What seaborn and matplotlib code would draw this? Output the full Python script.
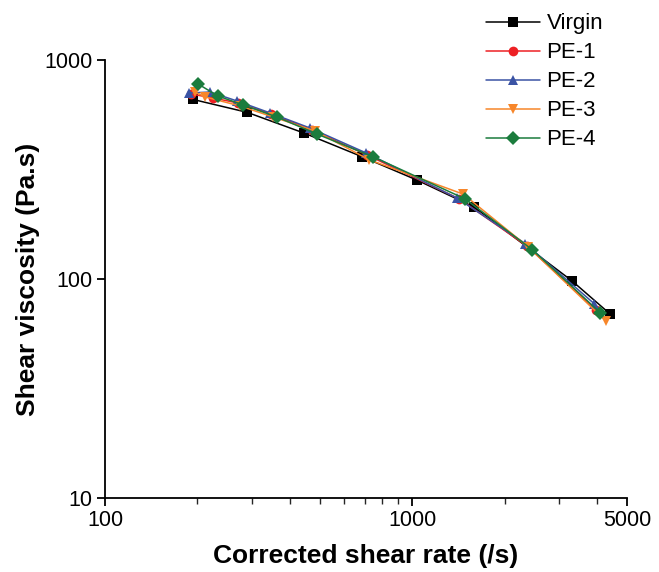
import numpy as np
import pandas as pd
import matplotlib
matplotlib.use("Agg")
import matplotlib.pyplot as plt
import matplotlib.ticker as mticker
import seaborn as sns

# Data (shear rate in /s, viscosity in Pa.s)
virgin_rate = [193, 290, 446, 686, 1036, 1592, 3313, 4416]
virgin_visc = [661, 577, 463, 362, 283, 213, 98, 69]

pe1_rate = [191, 225, 271, 347, 472, 714, 1423, 2369, 3975]
pe1_visc = [699, 671, 636, 567, 479, 368, 232, 141, 72]

pe2_rate = [188, 220, 269, 345, 465, 709, 1401, 2334, 3916]
pe2_visc = [707, 714, 650, 573, 489, 376, 234, 145, 77]

pe3_rate = [196, 212, 275, 353, 483, 725, 1466, 2387, 4284]
pe3_visc = [714, 678, 617, 549, 474, 350, 244, 140, 64]

pe4_rate = [201, 233, 282, 363, 490, 747, 1488, 2460, 4097]
pe4_visc = [777, 685, 623, 549, 459, 361, 232, 136, 70]

samples = ["Virgin", "PE-1", "PE-2", "PE-3", "PE-4"]
rates = [virgin_rate, pe1_rate, pe2_rate, pe3_rate, pe4_rate]
viscs = [virgin_visc, pe1_visc, pe2_visc, pe3_visc, pe4_visc]

df = pd.concat(
    [pd.DataFrame({"rate": r, "visc": v, "sample": s}) for s, r, v in zip(samples, rates, viscs)],
    ignore_index=True,
)

colors = {"Virgin": "#000000", "PE-1": "#ED2024", "PE-2": "#3A53A4",
          "PE-3": "#F7862A", "PE-4": "#1B7C3D"}
markers = {"Virgin": "s", "PE-1": "o", "PE-2": "^", "PE-3": "v", "PE-4": "D"}

sns.set_style("ticks")
plt.rcParams["font.family"] = ["Liberation Sans", "DejaVu Sans"]
plt.rcParams["text.color"] = "black"
plt.rcParams["axes.labelcolor"] = "black"

fig = plt.figure(figsize=(6.59, 5.72), dpi=100)
ax = fig.add_axes([0.1593, 0.1294, 0.7921, 0.7657])

sns.lineplot(data=df, x="rate", y="visc", hue="sample", style="sample",
             hue_order=samples, style_order=samples, palette=colors,
             markers=markers, dashes=False, sort=False, estimator=None,
             linewidth=1.1, markersize=7, markeredgewidth=0, ax=ax)

ax.set_xscale("log")
ax.set_yscale("log")
ax.set_xlim(100, 5000)
ax.set_ylim(10, 1000)

ax.xaxis.set_major_locator(mticker.FixedLocator([100, 1000, 5000]))
ax.xaxis.set_major_formatter(mticker.FixedFormatter(["100", "1000", "5000"]))
ax.xaxis.set_minor_locator(mticker.FixedLocator(
    [200, 300, 400, 500, 600, 700, 800, 900, 2000, 3000, 4000]))
ax.xaxis.set_minor_formatter(mticker.NullFormatter())
ax.yaxis.set_major_locator(mticker.FixedLocator([10, 100, 1000]))
ax.yaxis.set_major_formatter(mticker.FixedFormatter(["10", "100", "1000"]))
ax.yaxis.set_minor_locator(mticker.NullLocator())

ax.tick_params(axis="both", which="major", direction="out", length=6, width=1.3,
               labelsize=15.5, colors="black", pad=3)
ax.tick_params(axis="both", which="minor", direction="out", length=4, width=1.0)

for side in ["left", "bottom"]:
    ax.spines[side].set_linewidth(1.3)
    ax.spines[side].set_color("black")
sns.despine(ax=ax)

ax.set_xlabel("Corrected shear rate (/s)", fontsize=19, fontweight="bold", labelpad=9)
ax.set_ylabel("Shear viscosity (Pa.s)", fontsize=19, fontweight="bold", labelpad=3)

handles, labels = ax.get_legend_handles_labels()
ax.get_legend().remove()
fig.legend(handles, labels, loc="upper left", bbox_to_anchor=(0.718, 1.0),
           frameon=False, fontsize=16, handlelength=2.4, handletextpad=0.3,
           labelspacing=0.36, borderaxespad=0.2)

fig.savefig("out.png", dpi=100)
